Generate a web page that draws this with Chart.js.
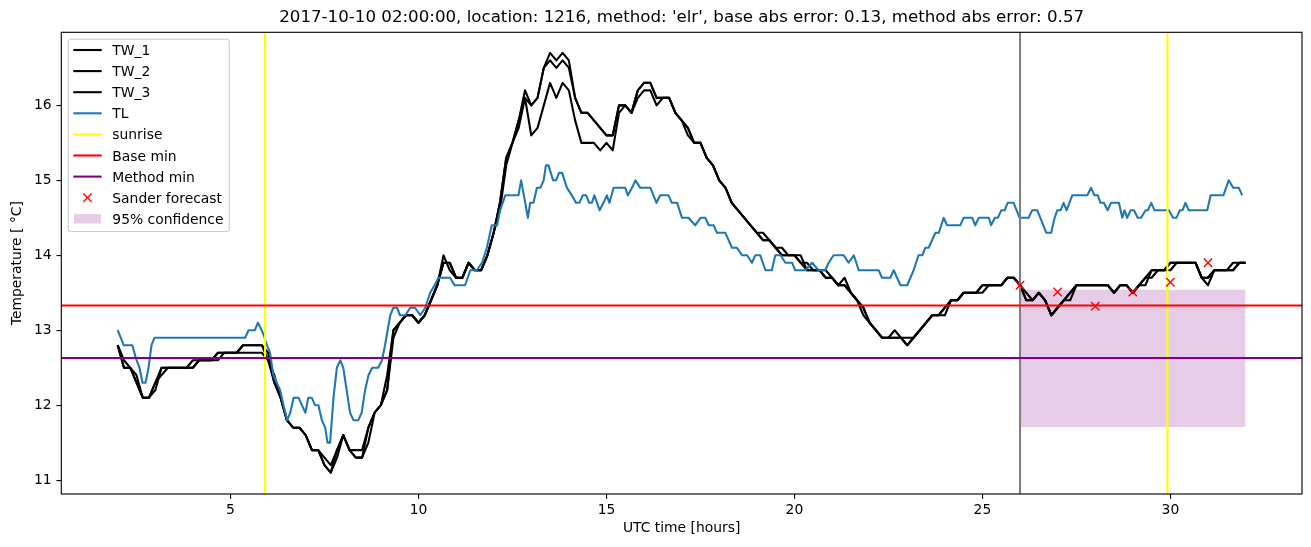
<!DOCTYPE html>
<html><head><meta charset="utf-8">
<script src="https://cdn.jsdelivr.net/npm/chart.js@4.4.1/dist/chart.umd.min.js"></script>
<style>html,body{margin:0;padding:0;background:#fff;}canvas{display:block;}</style>
</head><body>
<canvas id="c" width="1311" height="547"></canvas>
<script>
const titleText = "2017-10-10 02:00:00, location: 1216, method: 'elr', base abs error: 0.13, method abs error: 0.57";
const xLabel = "UTC time [hours]";
const yLabel = "Temperature [ \u00B0C]";
const xTicks = [5, 10, 15, 20, 25, 30];
const yTicks = [11, 12, 13, 14, 15, 16];
const xRange = [0.5, 33.5];
const yRange = [10.815, 16.975];

// TW series: 10-minute samples starting at 02:00
const twStart = 2;
const twStep = 1 / 6;
const tw1 = [
 12.8,12.5,12.5,12.3,12.1,12.1,12.3,12.5,12.5,12.5,12.5,12.5,
 12.6,12.6,12.6,12.6,12.7,12.7,12.7,12.7,12.8,12.8,12.8,12.8,
 12.6,12.3,12.1,11.8,11.7,11.7,11.6,11.4,11.4,11.2,11.1,11.4,
 11.6,11.4,11.3,11.3,11.7,11.9,12.0,12.4,13.0,13.1,13.2,13.2,
 13.1,13.2,13.4,13.6,14.0,13.8,13.7,13.7,13.9,13.8,13.8,14.0,
 14.3,14.7,15.3,15.5,15.8,16.2,16.0,16.1,16.5,16.7,16.6,16.7,
 16.6,16.1,15.9,15.9,15.8,15.7,15.6,15.6,16.0,16.0,15.9,16.2,
 16.3,16.3,16.1,16.1,16.1,15.9,15.8,15.7,15.5,15.5,15.3,15.2,
 15.0,14.9,14.7,14.6,14.5,14.4,14.3,14.2,14.2,14.1,14.0,14.0,
 14.0,13.9,13.8,13.8,13.8,13.7,13.7,13.6,13.6,13.5,13.4,13.2,
 13.1,13.0,12.9,12.9,12.9,12.9,12.8,12.9,13.0,13.1,13.2,13.2,
 13.3,13.4,13.4,13.5,13.5,13.5,13.6,13.6,13.6,13.6,13.7,13.7,
 13.6,13.4,13.4,13.5,13.4,13.2,13.3,13.4,13.5,13.6,13.6,13.6,
 13.6,13.6,13.6,13.5,13.6,13.6,13.5,13.6,13.7,13.8,13.8,13.8,
 13.9,13.9,13.9,13.9,13.9,13.7,13.7,13.8,13.8,13.8,13.9,13.9,
 13.9];
const tw2 = [
 12.8,12.5,12.5,12.3,12.1,12.1,12.3,12.4,12.5,12.5,12.5,12.5,
 12.5,12.6,12.6,12.6,12.7,12.7,12.7,12.7,12.8,12.8,12.8,12.8,
 12.7,12.3,12.1,11.8,11.7,11.7,11.6,11.4,11.4,11.2,11.1,11.3,
 11.6,11.4,11.3,11.3,11.5,11.9,12.0,12.2,13.0,13.1,13.2,13.2,
 13.1,13.2,13.4,13.6,13.9,13.9,13.7,13.7,13.9,13.8,13.8,14.0,
 14.3,14.7,15.3,15.5,15.8,16.1,16.0,16.1,16.5,16.6,16.5,16.6,
 16.5,16.1,15.9,15.9,15.8,15.7,15.6,15.6,16.0,16.0,15.9,16.2,
 16.3,16.3,16.1,16.1,16.1,15.9,15.8,15.7,15.5,15.5,15.3,15.2,
 15.0,14.9,14.7,14.6,14.5,14.4,14.3,14.2,14.2,14.1,14.1,14.0,
 14.0,13.9,13.9,13.8,13.8,13.8,13.7,13.6,13.6,13.5,13.4,13.3,
 13.1,13.0,12.9,12.9,13.0,12.9,12.8,12.9,13.0,13.1,13.2,13.2,
 13.3,13.4,13.4,13.5,13.5,13.5,13.5,13.6,13.6,13.6,13.7,13.7,
 13.6,13.5,13.4,13.5,13.4,13.2,13.3,13.4,13.4,13.6,13.6,13.6,
 13.6,13.6,13.6,13.5,13.6,13.6,13.5,13.6,13.7,13.7,13.8,13.8,
 13.8,13.9,13.9,13.9,13.9,13.7,13.7,13.8,13.8,13.8,13.8,13.9,
 13.9];
const tw3 = [
 12.8,12.6,12.5,12.4,12.1,12.1,12.2,12.5,12.5,12.5,12.5,12.5,
 12.5,12.6,12.6,12.6,12.6,12.7,12.7,12.7,12.7,12.7,12.7,12.7,
 12.6,12.4,12.1,11.8,11.7,11.7,11.6,11.4,11.4,11.3,11.2,11.4,
 11.6,11.4,11.4,11.4,11.7,11.9,12.0,12.2,12.9,13.1,13.2,13.2,
 13.1,13.2,13.4,13.6,13.9,13.9,13.7,13.7,13.9,13.8,13.8,14.0,
 14.3,14.6,15.2,15.5,15.7,16.1,15.6,15.7,16.0,16.3,16.1,16.3,
 16.2,15.8,15.5,15.5,15.5,15.4,15.5,15.4,15.9,16.0,15.9,16.1,
 16.2,16.2,16.0,16.1,16.1,15.9,15.8,15.6,15.5,15.5,15.3,15.2,
 15.0,14.9,14.7,14.6,14.5,14.4,14.3,14.3,14.2,14.1,14.0,14.0,
 14.0,14.0,13.8,13.8,13.8,13.7,13.7,13.6,13.7,13.5,13.4,13.3,
 13.1,13.0,12.9,12.9,12.9,12.9,12.9,12.9,13.0,13.1,13.2,13.2,
 13.2,13.4,13.4,13.5,13.5,13.5,13.6,13.6,13.6,13.6,13.7,13.7,
 13.6,13.4,13.4,13.5,13.4,13.2,13.3,13.4,13.5,13.6,13.6,13.6,
 13.6,13.6,13.6,13.5,13.6,13.6,13.5,13.6,13.6,13.8,13.8,13.8,
 13.9,13.9,13.9,13.9,13.9,13.7,13.6,13.8,13.8,13.8,13.8,13.9,
 13.9];

// TL series: turning points (hours, degC)
const tlHours = [
 2.00,2.16,2.39,2.50,2.58,2.66,2.74,2.82,2.90,2.98,
 5.39,5.48,5.65,5.73,5.83,5.91,5.97,6.05,6.14,6.23,
 6.32,6.41,6.51,6.59,6.68,6.81,6.90,6.99,7.07,7.16,
 7.25,7.34,7.43,7.52,7.58,7.65,7.74,7.83,7.92,8.00,
 8.09,8.18,8.27,8.40,8.49,8.58,8.67,8.77,8.93,9.03,
 9.11,9.25,9.33,9.43,9.51,9.65,9.78,9.91,10.05,10.18,
 10.31,10.43,10.53,10.84,10.96,11.24,11.38,11.55,11.69,11.82,
 11.95,12.09,12.17,12.31,12.66,12.73,12.84,12.91,12.97,13.06,
 13.15,13.24,13.33,13.39,13.46,13.58,13.66,13.74,13.82,13.95,
 14.08,14.19,14.28,14.37,14.46,14.54,14.61,14.68,14.82,14.92,
 15.01,15.08,15.19,15.50,15.57,15.68,15.77,15.90,16.17,16.33,
 16.43,16.65,16.74,16.88,17.01,17.18,17.36,17.50,17.63,17.72,
 17.85,17.94,18.16,18.34,18.47,18.61,18.74,18.87,18.96,19.09,
 19.23,19.40,19.49,19.63,19.76,19.94,20.02,20.29,20.47,20.64,
 20.82,20.91,21.04,21.31,21.44,21.58,21.71,22.24,22.33,22.55,
 22.64,22.82,23.00,23.17,23.30,23.40,23.48,23.57,23.66,23.75,
 23.84,23.97,24.06,24.41,24.50,24.73,24.81,24.90,25.17,25.23,
 25.33,25.41,25.50,25.59,25.67,25.83,25.99,26.23,26.32,26.46,
 26.62,26.70,26.83,26.92,26.99,27.08,27.16,27.24,27.39,27.79,
 27.89,27.98,28.07,28.14,28.23,28.33,28.42,28.63,28.72,28.78,
 28.85,28.94,29.03,29.13,29.22,29.34,29.40,29.49,29.58,29.96,
 30.07,30.16,30.25,30.32,30.40,30.49,30.98,31.07,31.41,31.55,
 31.67,31.82,31.91];
const tlTemp = [
 13.0,12.8,12.8,12.6,12.5,12.3,12.3,12.5,12.8,12.9,
 12.9,13.0,13.0,13.1,13.0,12.9,12.8,12.7,12.4,12.3,
 12.2,12.0,11.8,11.9,12.1,12.1,12.0,11.9,12.1,12.1,
 12.0,12.0,11.8,11.7,11.5,11.5,12.1,12.5,12.6,12.5,
 12.2,11.9,11.8,11.8,11.9,12.2,12.4,12.5,12.5,12.6,
 12.8,13.2,13.3,13.3,13.2,13.2,13.3,13.3,13.2,13.3,
 13.5,13.6,13.7,13.7,13.6,13.6,13.8,13.8,13.9,14.1,
 14.4,14.4,14.6,14.8,14.8,15.0,14.7,14.5,14.7,14.7,
 14.9,14.9,15.0,15.2,15.2,15.0,15.0,15.1,15.1,14.9,
 14.8,14.7,14.7,14.8,14.8,14.7,14.7,14.8,14.6,14.7,
 14.8,14.7,14.9,14.9,14.8,14.9,15.0,14.9,14.9,14.7,
 14.8,14.8,14.7,14.7,14.5,14.5,14.4,14.5,14.5,14.4,
 14.4,14.3,14.3,14.1,14.1,14.0,14.0,13.9,14.0,14.0,
 13.8,13.8,14.0,14.0,13.9,13.9,13.8,13.8,13.9,13.8,
 13.8,13.9,14.0,14.0,13.9,14.0,13.8,13.8,13.7,13.7,
 13.8,13.6,13.6,13.8,14.0,14.0,14.1,14.1,14.2,14.3,
 14.3,14.5,14.4,14.4,14.5,14.5,14.4,14.5,14.5,14.4,
 14.5,14.5,14.6,14.6,14.7,14.7,14.5,14.5,14.6,14.6,
 14.4,14.3,14.3,14.5,14.6,14.6,14.7,14.6,14.8,14.8,
 14.9,14.8,14.8,14.7,14.7,14.6,14.7,14.7,14.5,14.6,
 14.5,14.6,14.6,14.5,14.5,14.6,14.6,14.7,14.6,14.6,
 14.5,14.5,14.6,14.6,14.7,14.6,14.6,14.8,14.8,15.0,
 14.9,14.9,14.8];

const sunriseHours = [5.92, 29.92];
const forecastStartHour = 26;
const baseMin = 13.33;
const methodMin = 12.63;
const forecastHours = [26, 27, 28, 29, 30, 31];
const forecastTemp = [13.60, 13.51, 13.32, 13.51, 13.64, 13.90];
const confHours = [26, 32];
const confLow = 11.71;
const confHigh = 13.54;

const FONT = 'DejaVu Sans';
const PT = 100 / 72;
const LW = 1.5 * PT;
Chart.defaults.font.family = FONT;
Chart.defaults.color = '#000';

const twHours = tw1.map((_, i) => twStart + i * twStep);
const pts = (xs, ys) => xs.map((x, i) => ({x: x, y: ys[i]}));
const lineDs = (label, data, color, order, legendType) => ({
  label: label, data: data, borderColor: color, backgroundColor: color,
  borderWidth: LW, pointRadius: 0, pointHoverRadius: 0, fill: false,
  tension: 0, order: order, borderJoinStyle: 'round', legendType: legendType
});

const datasets = [
  lineDs('TW_1', pts(twHours, tw1), '#000000', 9, 'line'),
  lineDs('TW_2', pts(twHours, tw2), '#000000', 8, 'line'),
  lineDs('TW_3', pts(twHours, tw3), '#000000', 7, 'line'),
  lineDs('TL', pts(tlHours, tlTemp), '#1f77b4', 6, 'line'),
  lineDs('sunrise', pts([sunriseHours[0], sunriseHours[0]], yRange), '#ffff00', 5, 'line'),
  lineDs('sunrise_2', pts([sunriseHours[1], sunriseHours[1]], yRange), '#ffff00', 5, null),
  lineDs('forecast start', pts([forecastStartHour, forecastStartHour], yRange), '#808080', 4, null),
  lineDs('Base min', pts(xRange, [baseMin, baseMin]), '#ff0000', 3, 'line'),
  lineDs('Method min', pts(xRange, [methodMin, methodMin]), '#800080', 2, 'line'),
  {
    label: 'Sander forecast', data: pts(forecastHours, forecastTemp), showLine: false,
    pointStyle: 'crossRot', pointRadius: 5.9, pointHoverRadius: 5.9, pointBorderWidth: 1.4,
    pointBorderColor: '#ff0000', pointBackgroundColor: '#ff0000', borderColor: '#ff0000',
    order: 1, legendType: 'marker'
  },
  {
    label: '95% confidence', data: pts(confHours, [confHigh, confHigh]),
    borderColor: 'rgba(0,0,0,0)', borderWidth: 1, pointRadius: 0, pointHoverRadius: 0,
    backgroundColor: 'rgba(128,0,128,0.2)', fill: '+1', order: 20, legendType: 'patch'
  },
  {
    label: 'conf_low', data: pts(confHours, [confLow, confLow]),
    borderColor: 'rgba(0,0,0,0)', borderWidth: 1, pointRadius: 0, pointHoverRadius: 0,
    backgroundColor: 'rgba(0,0,0,0)', fill: false, order: 21, legendType: null
  }
];

const framePlugin = {
  id: 'frame',
  afterDatasetsDraw(chart) {
    const {ctx, chartArea: a} = chart;
    ctx.save();
    ctx.strokeStyle = '#000';
    ctx.lineWidth = 0.8 * PT;
    ctx.strokeRect(a.left, a.top, a.right - a.left, a.bottom - a.top);
    ctx.restore();
  }
};

const legendPlugin = {
  id: 'mplLegend',
  afterDraw(chart) {
    const {ctx, chartArea: a} = chart;
    const items = chart.data.datasets.filter(d => d.legendType);
    const fs = 10 * PT;
    const x0 = a.left + 7, y0 = a.top + 7;
    const rowH = 21.1;
    const w = 161, h = 10.7 + (items.length - 1) * rowH + 12.7;
    ctx.save();
    ctx.beginPath();
    const r = 3;
    ctx.moveTo(x0 + r, y0);
    ctx.lineTo(x0 + w - r, y0); ctx.quadraticCurveTo(x0 + w, y0, x0 + w, y0 + r);
    ctx.lineTo(x0 + w, y0 + h - r); ctx.quadraticCurveTo(x0 + w, y0 + h, x0 + w - r, y0 + h);
    ctx.lineTo(x0 + r, y0 + h); ctx.quadraticCurveTo(x0, y0 + h, x0, y0 + h - r);
    ctx.lineTo(x0, y0 + r); ctx.quadraticCurveTo(x0, y0, x0 + r, y0);
    ctx.closePath();
    ctx.fillStyle = 'rgba(255,255,255,0.8)';
    ctx.fill();
    ctx.strokeStyle = '#cccccc';
    ctx.lineWidth = 0.8 * PT;
    ctx.stroke();
    items.forEach((d, i) => {
      const cy = y0 + 10.7 + i * rowH;
      const hx0 = x0 + 5, hx1 = x0 + 33.4;
      if (d.legendType === 'line') {
        ctx.beginPath();
        ctx.strokeStyle = d.borderColor;
        ctx.lineWidth = LW;
        ctx.moveTo(hx0, cy); ctx.lineTo(hx1, cy);
        ctx.stroke();
      } else if (d.legendType === 'marker') {
        const cx = (hx0 + hx1) / 2, s = 4.17;
        ctx.beginPath();
        ctx.strokeStyle = d.pointBorderColor;
        ctx.lineWidth = d.pointBorderWidth;
        ctx.moveTo(cx - s, cy - s); ctx.lineTo(cx + s, cy + s);
        ctx.moveTo(cx - s, cy + s); ctx.lineTo(cx + s, cy - s);
        ctx.stroke();
      } else if (d.legendType === 'patch') {
        ctx.fillStyle = d.backgroundColor;
        ctx.fillRect(hx0 + 0.7, cy - 4.7, hx1 - hx0 - 1.4, 9.4);
      }
      ctx.fillStyle = '#000';
      ctx.font = fs + 'px "' + FONT + '"';
      ctx.textAlign = 'left';
      ctx.textBaseline = 'alphabetic';
      ctx.fillText(d.label, x0 + 44, cy + 5);
    });
    ctx.restore();
  }
};

const tickFont = {family: FONT, size: 10 * PT};
new Chart(document.getElementById('c'), {
  type: 'line',
  data: {datasets: datasets},
  options: {
    responsive: false,
    devicePixelRatio: 1,
    animation: false,
    events: [],
    layout: {padding: {left: 0, right: 9, top: 0, bottom: 0}},
    plugins: {
      legend: {display: false},
      tooltip: {enabled: false},
      title: {
        display: true, text: titleText, fullSize: false,
        font: {family: FONT, size: 12 * PT, weight: 'normal', lineHeight: 1.2},
        color: '#000', padding: {top: 8, bottom: 4.3}
      }
    },
    scales: {
      x: {
        type: 'linear', position: 'bottom', min: xRange[0], max: xRange[1],
        afterBuildTicks: (s) => { s.ticks = xTicks.map(v => ({value: v})); },
        afterFit: (s) => { s.height = 53; },
        ticks: {font: tickFont, color: '#000', padding: 3, autoSkip: false, maxRotation: 0},
        grid: {display: true, drawOnChartArea: false, drawTicks: true, tickLength: 3.5 * PT, color: '#000', lineWidth: 0.8 * PT},
        border: {display: false},
        title: {display: true, text: xLabel, font: tickFont, color: '#000', padding: {top: 0, bottom: 10}}
      },
      y: {
        type: 'linear', position: 'left', min: yRange[0], max: yRange[1],
        afterBuildTicks: (s) => { s.ticks = yTicks.map(v => ({value: v})); },
        afterFit: (s) => { s.width = 61.3; },
        ticks: {font: tickFont, color: '#000', padding: 3.5 * PT, autoSkip: false},
        grid: {display: true, drawOnChartArea: false, drawTicks: true, tickLength: 3.5 * PT, color: '#000', lineWidth: 0.8 * PT},
        border: {display: false},
        title: {display: true, text: yLabel, font: tickFont, color: '#000', padding: {top: 9, bottom: 0}}
      }
    }
  },
  plugins: [framePlugin, legendPlugin]
});
</script>
</body></html>
